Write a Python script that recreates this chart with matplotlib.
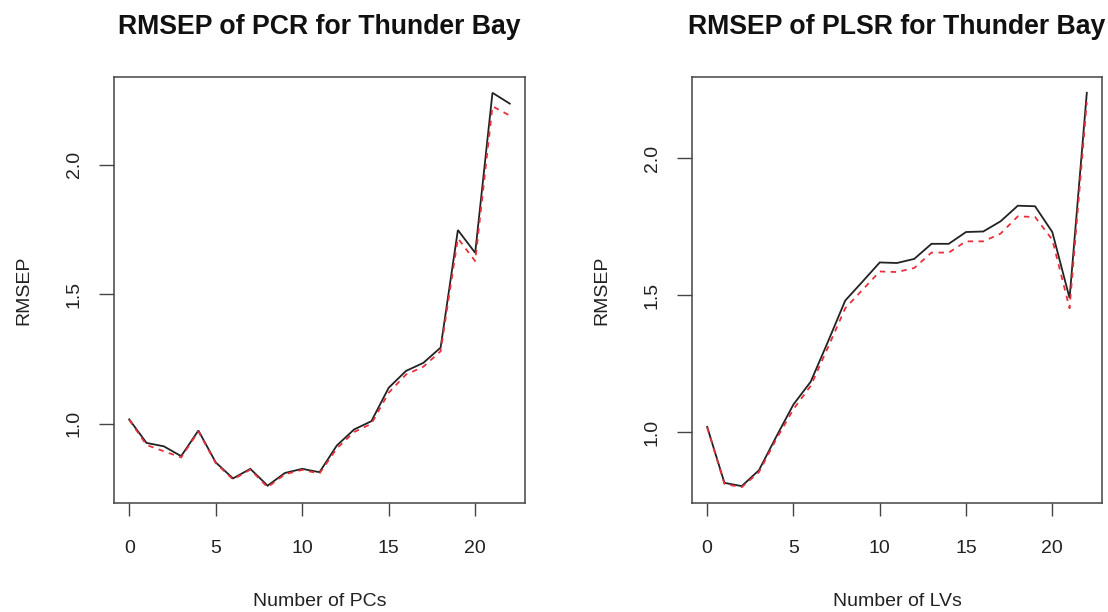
import matplotlib
matplotlib.use("Agg")
import matplotlib.pyplot as plt

plt.rcParams['font.family'] = ['Liberation Sans', 'DejaVu Sans']

n_pcs = list(range(23))
pcr_cv = [1.017, 0.926, 0.913, 0.875, 0.974, 0.851, 0.789, 0.826, 0.761, 0.810,
          0.826, 0.813, 0.916, 0.978, 1.010, 1.139, 1.204, 1.235, 1.294, 1.748,
          1.660, 2.278, 2.236]
pcr_adjcv = [1.015, 0.918, 0.894, 0.870, 0.970, 0.848, 0.785, 0.823, 0.755, 0.805,
             0.822, 0.808, 0.905, 0.968, 1.000, 1.120, 1.190, 1.220, 1.280, 1.716,
             1.628, 2.226, 2.190]

n_lvs = list(range(23))
plsr_cv = [1.020, 0.816, 0.804, 0.862, 0.984, 1.102, 1.185, 1.331, 1.481, 1.550,
           1.620, 1.618, 1.633, 1.688, 1.688, 1.731, 1.733, 1.770, 1.827, 1.825,
           1.731, 1.490, 2.239]
plsr_adjcv = [1.018, 0.812, 0.800, 0.855, 0.975, 1.085, 1.170, 1.310, 1.453, 1.520,
              1.587, 1.585, 1.600, 1.656, 1.656, 1.697, 1.697, 1.725, 1.788, 1.786,
              1.703, 1.453, 2.205]

x_ticks = [0, 5, 10, 15, 20]
y_ticks = [1.0, 1.5, 2.0]
y_tick_labels = ["1.0", "1.5", "2.0"]

fig = plt.figure(figsize=(11.08, 6.12), dpi=100)
ax1 = fig.add_axes([114/1108, 1-503/612, 411/1108, 426/612])
ax2 = fig.add_axes([692/1108, 1-503/612, 410/1108, 426/612])

panels = [
    (ax1, n_pcs, pcr_cv, pcr_adjcv, "RMSEP of PCR for Thunder Bay", "Number of PCs"),
    (ax2, n_lvs, plsr_cv, plsr_adjcv, "RMSEP of PLSR for Thunder Bay", "Number of LVs"),
]

for ax, xs, cv, adj, title, xlabel in panels:
    ax.plot(xs, cv, color="#222222", lw=1.3, solid_joinstyle="miter")
    ax.plot(xs, adj, color="#e8303c", lw=1.3, ls=(0, (3, 3)))
    ax.margins(x=0.04, y=0.04)
    ax.set_xticks(x_ticks)
    ax.set_yticks(y_ticks)
    ax.set_yticklabels(y_tick_labels, rotation=90, va="center")
    ax.tick_params(axis="x", length=9.5, width=1, color="#444444", pad=17,
                   labelsize=14, labelcolor="#222222")
    ax.tick_params(axis="y", length=10.5, width=1, color="#444444", pad=12,
                   labelsize=14, labelcolor="#222222")
    for s in ax.spines.values():
        s.set_color("#444444")
        s.set_linewidth(1.1)
    ax.set_title(title, fontsize=19.2, fontweight="bold", pad=31, color="#111111")
    ax.set_xlabel(xlabel, fontsize=14, labelpad=26, color="#222222")
    ax.set_ylabel("RMSEP", fontsize=14, labelpad=24, color="#222222")

fig.savefig("out.png", dpi=100)
